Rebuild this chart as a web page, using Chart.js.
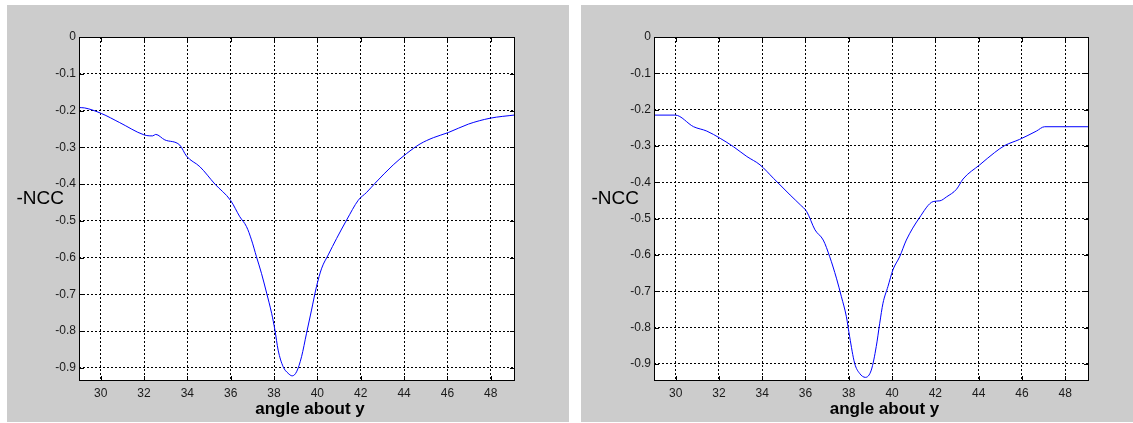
<!DOCTYPE html>
<html>
<head>
<meta charset="utf-8">
<script src="https://cdn.jsdelivr.net/npm/chart.js@4.4.1/dist/chart.umd.min.js"></script>
<style>
  html, body { margin: 0; padding: 0; background: #fff; }
  body { width: 1133px; height: 423px; position: relative; overflow: hidden; }
  .panel { position: absolute; top: 5px; height: 417px; }
  #panel-left { left: 7px; width: 562px; }
  #panel-right { left: 581px; width: 552px; }
</style>
</head>
<body>
<div class="panel" id="panel-left"><canvas id="chart-left"></canvas></div>
<div class="panel" id="panel-right"><canvas id="chart-right"></canvas></div>
<script>
var xTicks = [30, 32, 34, 36, 38, 40, 42, 44, 46, 48];
var yTicks = [-0.9, -0.8, -0.7, -0.6, -0.5, -0.4, -0.3, -0.2, -0.1, 0];
var xLabel = 'angle about y';
var yLabel = '-NCC';

var leftAngle = [29.00, 29.26, 30.03, 30.88, 31.99, 32.27, 32.40, 32.54, 32.96, 33.65, 33.96, 34.58, 35.27, 36.00, 36.42, 36.73,
  36.96, 37.19, 37.42, 37.66, 37.89, 38.04, 38.19, 38.42, 38.65, 38.84, 39.04, 39.27, 39.50, 39.73, 39.96, 40.20, 40.50, 40.89,
  41.35, 41.89, 42.27, 42.66, 43.50, 44.12, 44.74, 45.35, 46.04, 46.97, 47.97, 49.14];
var leftNcc = [-0.192, -0.193, -0.208, -0.233, -0.266, -0.269, -0.269, -0.265, -0.280, -0.294, -0.324, -0.353, -0.400, -0.445, -0.489, -0.516,
  -0.552, -0.598, -0.643, -0.697, -0.752, -0.797, -0.852, -0.897, -0.915, -0.922, -0.911, -0.870, -0.806, -0.743, -0.679, -0.629, -0.593, -0.548,
  -0.498, -0.444, -0.423, -0.398, -0.348, -0.317, -0.291, -0.274, -0.260, -0.237, -0.221, -0.212];

var rightAngle = [29.00, 29.98, 30.83, 31.44, 32.06, 32.67, 33.29, 33.90, 34.52, 35.29, 35.76, 36.06, 36.44, 36.82, 37.12, 37.43,
  37.66, 37.89, 38.04, 38.27, 38.50, 38.77, 39.04, 39.27, 39.43, 39.58, 39.81, 40.04, 40.35, 40.66, 41.25, 41.90, 42.21, 42.52,
  42.98, 43.28, 44.05, 44.74, 45.20, 45.89, 46.67, 47.05, 49.05, 49.10];
var rightNcc = [-0.215, -0.215, -0.247, -0.259, -0.279, -0.302, -0.329, -0.352, -0.389, -0.435, -0.462, -0.481, -0.531, -0.559, -0.605, -0.664,
  -0.715, -0.770, -0.825, -0.898, -0.926, -0.937, -0.917, -0.852, -0.788, -0.733, -0.687, -0.641, -0.605, -0.559, -0.499, -0.453, -0.451, -0.440,
  -0.419, -0.391, -0.352, -0.318, -0.299, -0.282, -0.259, -0.247, -0.247, -0.244];

var fontFamily = '"Liberation Sans", Arial, sans-serif';
var tickFont = { family: fontFamily, size: 12 };

// grey figure, white axes box, inward tick marks and the two labels (matlab look)
var matlabFrame = {
  id: 'matlabFrame',
  beforeDraw: function(chart) {
    var c = chart.ctx, a = chart.chartArea;
    c.save();
    c.fillStyle = '#cccccc';
    c.fillRect(0, 0, chart.width, chart.height);
    c.fillStyle = '#ffffff';
    c.fillRect(a.left, a.top, a.right - a.left, a.bottom - a.top);
    c.restore();
  },
  afterDraw: function(chart) {
    var c = chart.ctx, a = chart.chartArea;
    var xs = chart.scales.x, ys = chart.scales.y;
    c.save();
    c.strokeStyle = '#000';
    c.lineWidth = 1;
    c.strokeRect(a.left + 0.5, a.top + 0.5, a.right - a.left - 1, a.bottom - a.top - 1);
    c.beginPath();
    xTicks.forEach(function(v) {
      var px = Math.round(xs.getPixelForValue(v)) + 0.5;
      c.moveTo(px, a.bottom); c.lineTo(px, a.bottom - 5);
      c.moveTo(px, a.top); c.lineTo(px, a.top + 5);
    });
    yTicks.forEach(function(v) {
      var py = Math.round(ys.getPixelForValue(v)) + 0.5;
      c.moveTo(a.left, py); c.lineTo(a.left + 5, py);
      c.moveTo(a.right, py); c.lineTo(a.right - 5, py);
    });
    c.stroke();

    c.fillStyle = '#000';
    c.font = '19px ' + fontFamily;
    c.textAlign = 'right';
    c.textBaseline = 'middle';
    c.fillText(yLabel, a.left - 15, (a.top + a.bottom) / 2 - 10);

    c.font = 'bold 17px ' + fontFamily;
    c.textAlign = 'center';
    c.textBaseline = 'alphabetic';
    c.fillText(xLabel, (a.left + a.right) / 2 + 13, chart.height - 8);
    c.restore();
  }
};

function makeChart(id, angle, ncc, xMax, yMin, axisWidth, rightPad) {
  var ctx = document.getElementById(id);
  if (!ctx) return;

  new Chart(ctx.getContext('2d'), {
    type: 'line',
    data: {
      datasets: [{
        data: angle.map(function(x, i) { return { x: x, y: ncc[i] }; }),
        borderColor: '#0000ff', borderWidth: 1, pointRadius: 0, cubicInterpolationMode: 'monotone', fill: false
      }]
    },
    options: {
      responsive: true, maintainAspectRatio: false, animation: false,
      layout: { padding: { top: 32, right: rightPad, left: 0, bottom: 0 } },
      plugins: { legend: { display: false }, tooltip: { enabled: false } },
      scales: {
        x: {
          type: 'linear', min: 29, max: xMax,
          afterBuildTicks: function(s) { s.ticks = xTicks.map(function(v) { return { value: v }; }); },
          afterFit: function(s) { s.height = 41; },
          ticks: { font: tickFont, color: '#1a1a1a', padding: 5, maxRotation: 0, autoSkip: false,
            callback: function(v) { return String(v); } },
          grid: { color: '#000', drawTicks: false },
          border: { display: false, dash: [2, 2] }
        },
        y: {
          type: 'linear', min: yMin, max: 0,
          afterBuildTicks: function(s) { s.ticks = yTicks.map(function(v) { return { value: v }; }); },
          afterFit: function(s) { s.width = axisWidth; },
          ticks: { font: tickFont, color: '#1a1a1a', padding: 3, autoSkip: false,
            callback: function(v) { return String(Math.round(v * 10) / 10); } },
          grid: { color: '#000', drawTicks: false },
          border: { display: false, dash: [2, 2] }
        }
      }
    },
    plugins: [matlabFrame]
  });
}

makeChart('chart-left', leftAngle, leftNcc, 49.12, -0.936, 72, 54);
makeChart('chart-right', rightAngle, rightNcc, 49.1, -0.947, 73, 44);
</script>
</body>
</html>
